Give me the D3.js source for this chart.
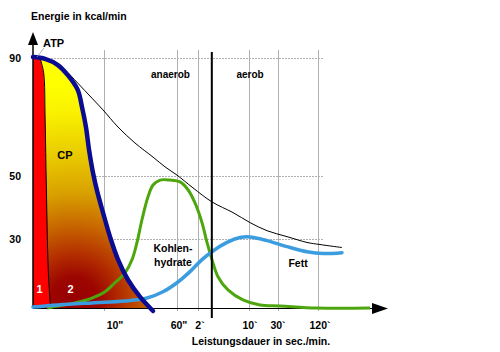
<!DOCTYPE html>
<html><head><meta charset="utf-8">
<script src="https://cdn.jsdelivr.net/npm/d3@7"></script>
<style>body{margin:0;background:#fff}svg{display:block}text{font-family:"Liberation Sans",Arial,sans-serif}</style>
</head><body><svg id="c" width="500" height="352"></svg>
<script>
// Time in seconds, energy in kcal/min
const timeTicks = [10, 60, 120, 600, 1800, 7200];
const timeTickLabels = ['10"', '60"', '2`', '10`', '30`', '120`'];
const energyTicks = [30, 50, 90];
const energyTickLabels = ['30', '50', '90'];
const thresholdTime = 250; // anaerob / aerob border
// ATP + CP (dark blue thick curve)
const speicher = [[0,90.3],[1.7,89.7],[3.5,87.6],[4.9,84.2],[6.3,79.2],[6.9,73.4],[7.46,66.6],[7.9,58.8],[8.5,50.5],[9.05,45.0],[9.86,38.3],[14.1,30.6],[19.6,20.9],[26.4,12.2],[34.7,4.8],[43.6,-1.3]];
// ATP / CP boundary
const atpGrenze = [[1.0,89.9],[1.5,85],[1.7,70],[1.85,50],[2.15,16.5],[2.46,0]];
// total energy (thin black)
const gesamt = [[0,90.3],[1.7,89.5],[2.7,88.6],[4.5,85.9],[6.3,81.5],[8.3,76.4],[9.86,72.4],[19.6,66.6],[31.2,61.2],[43.6,56.4],[51.8,53.1],[60,50.3],[105.7,46.2],[251.7,41.7],[449,38.3],[641,35.1],[1345,32.5],[3015,30.6],[5715,28.3],[8000,27.4],[16800,26.1]];
// Kohlenhydrate (green)
const kohlenhydrate = [[2.0,0],[2.7,0.4],[5.9,2.2],[8.3,4.3],[10.7,7.0],[17.5,10.9],[24.4,15.2],[29.2,20.9],[32.6,28.3],[36.0,36.0],[40.1,43.3],[43.6,47.1],[48.4,48.7],[55.2,48.7],[68.6,48.1],[91.4,45.6],[111.4,41.4],[157.6,35.1],[204.7,28.3],[251.7,20.9],[308,13.5],[402,7.8],[543,3.5],[1055,1.3],[2070,0.9],[7065,0],[28000,0]];
// Fett (light blue)
const fett = [[0,0.4],[3.5,1.3],[8.3,2.2],[24.4,3.0],[39.5,4.3],[50.4,7.0],[60,10.9],[97.1,15.7],[157.6,20.9],[251.7,24.3],[393,28.3],[515,30.3],[641,30.5],[1345,29.1],[3015,26.5],[5715,24.3],[9200,23.5],[16800,23.9]];

const svg = d3.select('#c');
const x = d3.scaleLinear().domain([0,10,60,120,600,1800,7200,28800]).range([33,104,177,198,249,278,318,372]);
const y = d3.scaleLinear().domain([0,30,50,90]).range([308,238.5,176,58]);

const defs = svg.append('defs');
const grad = defs.append('radialGradient').attr('id','cpGrad').attr('gradientUnits','userSpaceOnUse')
  .attr('cx', x(5.8)).attr('cy', y(3)).attr('r', 240);
[[0,'#960000'],[0.1,'#9c0500'],[0.2,'#b43000'],[0.32,'#c86800'],[0.45,'#d8a000'],[0.6,'#e8c800'],[0.78,'#f8f000'],[0.9,'#ffff00'],[1,'#ffff00']]
  .forEach(s => grad.append('stop').attr('offset', s[0]).attr('stop-color', s[1]));
defs.append('clipPath').attr('id','aboveAxis').append('rect')
  .attr('x', 0).attr('y', 0).attr('width', 500).attr('height', y(0));
const redClip = [[x(0)-3, y(100)], [x(atpGrenze[0][0]), y(100)], ...atpGrenze.map(d => [x(d[0]), y(d[1])]), [x(atpGrenze[atpGrenze.length-1][0]), y(0)], [x(0)-3, y(0)]];
defs.append('clipPath').attr('id','redClip').append('path').attr('d', d3.line().curve(d3.curveLinear)(redClip));

// grid
const grid = svg.append('g').attr('stroke','#b0b0b0').attr('stroke-width',1);
energyTicks.forEach(v => grid.append('line').attr('x1', x(0)).attr('x2', 323).attr('y1', Math.round(y(v))+0.5).attr('y2', Math.round(y(v))+0.5).attr('stroke-dasharray','2,1'));
timeTicks.forEach(t => grid.append('line').attr('x1', Math.round(x(t))+0.5).attr('x2', Math.round(x(t))+0.5).attr('y1', 50).attr('y2', y(0)+3));

const curve = d3.curveCatmullRom.alpha(0.5);
// areas
const areaGen = d3.area().x(d => x(d[0])).y0(y(0)).y1(d => y(d[1])).curve(curve);
svg.append('path').attr('d', areaGen(speicher)).attr('fill','url(#cpGrad)').attr('clip-path','url(#aboveAxis)');
svg.append('path').attr('d', areaGen(speicher)).attr('fill','#ff0000').attr('clip-path','url(#redClip)');
svg.append('path').attr('d', d3.line().x(d => x(d[0])).y(d => y(d[1])).curve(curve)(atpGrenze))
  .attr('fill','none').attr('stroke','#000').attr('stroke-width',1);

// axes
svg.append('line').attr('x1', x(0)).attr('x2', x(0)).attr('y1', 44).attr('y2', y(0)).attr('stroke','#000').attr('stroke-width',1.5);
svg.append('path').attr('d', `M${x(0)},32L${x(0)-5},45L${x(0)+5},45Z`).attr('fill','#000');
svg.append('line').attr('x1', x(0)).attr('x2', x(28800)).attr('y1', y(0)+0.5).attr('y2', y(0)+0.5).attr('stroke','#000').attr('stroke-width',1);
svg.append('path').attr('d', `M${x(28800)+16},${y(0)+0.5}L${x(28800)},${y(0)-5}L${x(28800)},${y(0)+6}Z`).attr('fill','#000');

const lineGen = d3.line().x(d => x(d[0])).y(d => y(d[1])).curve(curve);
svg.append('path').attr('d', lineGen(gesamt)).attr('fill','none').attr('stroke','#000').attr('stroke-width',1);
svg.append('path').attr('d', lineGen(kohlenhydrate)).attr('fill','none').attr('stroke','#4ea60e').attr('stroke-width',3);
svg.append('path').attr('d', lineGen(fett)).attr('fill','none').attr('stroke','#3b9de0').attr('stroke-width',3.5).attr('stroke-linecap','round');
svg.append('path').attr('d', lineGen(speicher)).attr('fill','none').attr('stroke','#0c0c92').attr('stroke-width',4.5).attr('stroke-linecap','round');

// threshold line
svg.append('line').attr('x1', x(thresholdTime)).attr('x2', x(thresholdTime)).attr('y1', 52).attr('y2', 318).attr('stroke','#000').attr('stroke-width',2);

// ATP leader
svg.append('line').attr('x1', x(0)+11).attr('x2', x(0)+4).attr('y1', y(90)-10).attr('y2', y(90)-1).attr('stroke','#999').attr('stroke-width',0.8);

// tick labels
energyTicks.forEach((v,i) => svg.append('text').attr('x', 21).attr('y', y(v)+4).attr('text-anchor','end')
  .attr('font-size',10.5).attr('font-weight','bold').text(energyTickLabels[i]));
const tickDx = [11, 2, 2, 1, 0, 2];
timeTicks.forEach((t,i) => svg.append('text').attr('x', x(t)+tickDx[i]).attr('y', 329).attr('text-anchor','middle')
  .attr('font-size',10.5).attr('font-weight','bold').text(timeTickLabels[i]));

function label(tx, ty, s, opt) {
  opt = opt || {};
  svg.append('text').attr('x', tx).attr('y', ty).attr('text-anchor', opt.anchor || 'start')
    .attr('font-size', opt.size || 10.5).attr('font-weight', opt.weight || 'bold')
    .attr('fill', opt.fill || '#000').text(s);
}
label(31, 19.5, 'Energie in kcal/min');
label(261, 345, 'Leistungsdauer in sec./min.', {anchor:'middle'});
label(43, 46.5, 'ATP', {size:11});
label(65, 159, 'CP', {size:11, anchor:'middle'});
label(39.5, 293, '1', {size:11, fill:'#fff', anchor:'middle'});
label(70.5, 293, '2', {size:11, fill:'#fff', anchor:'middle'});
label(170.5, 78, 'anaerob', {size:10, anchor:'middle'});
label(250, 78, 'aerob', {size:10, anchor:'middle'});
label(173, 252, 'Kohlen-', {anchor:'middle'});
label(173, 265.5, 'hydrate', {anchor:'middle'});
label(298, 267, 'Fett', {anchor:'middle'});
</script></body></html>
